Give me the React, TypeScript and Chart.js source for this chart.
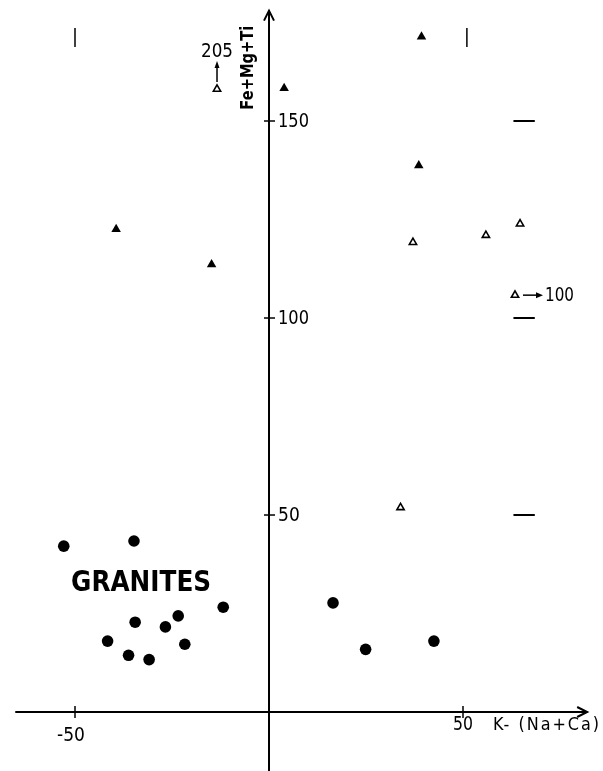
import React, { useEffect, useRef } from "react";
import { Chart, registerables } from "chart.js";
Chart.register(...registerables);

// Granites (filled circles)
const graniteX = [-52.9, -34.8, -11.8, -23.4, -34.5, -26.7, -41.6, -21.7, -36.2, -30.9, 16.5, 24.9, 42.5];
const graniteY = [42.1, 43.4, 26.6, 24.4, 22.8, 21.6, 18.0, 17.2, 14.4, 13.3, 27.7, 15.9, 18.0];
// Filled triangles
const filledTriX = [-39.4, -14.8, 3.9, 39.3, 38.6];
const filledTriY = [122.5, 113.6, 158.3, 171.4, 138.7];
// Open triangles
const openTriX = [-13.4, 37.1, 55.9, 64.7, 63.4, 33.9];
const openTriY = [158.1, 119.2, 121.0, 123.9, 105.8, 51.9];
// Off-scale true values for open triangles ("up" = Fe+Mg+Ti, "right" = K-(Na+Ca))
const openTriNote = ["205", "", "", "", "100", ""];
const openTriNoteDir = ["up", "", "", "", "right", ""];

const xTicks = [-50, 50];
const xTickLabels = ["-50", "50"];
const yTicks = [50, 100, 150];
const yTickLabels = ["50", "100", "150"];
const xAxisTitle = "K- (Na+Ca)";
const yAxisTitle = "Fe+Mg+Ti";
const groupLabel = "GRANITES";
const groupLabelAt = [-51, 32.5];

// reference marks
const dashY = [150, 100, 50];
const dashX = [63, 68.5];
const barX = [-50, 51];
const barY = [168.8, 173.6];

const xRange = [-69.33, 86.08];
const yRange = [-14.97, 180.71];
const xAxisExtent = [-65.4, 82];
const yAxisExtent = [-15, 178];

const FONT = "'DejaVu Sans Condensed', 'DejaVu Sans', sans-serif";

const axesPlugin = {
  id: "customAxes",
  afterDatasetsDraw(chart: any) {
    const ctx = chart.ctx as CanvasRenderingContext2D;
    const xs = chart.scales.x;
    const ys = chart.scales.y;
    const px = (v: number) => xs.getPixelForValue(v);
    const py = (v: number) => ys.getPixelForValue(v);
    const x0 = px(0);
    const y0 = py(0);
    ctx.save();
    ctx.strokeStyle = "#000";
    ctx.fillStyle = "#000";
    ctx.lineWidth = 2;
    ctx.lineCap = "butt";
    // x axis
    ctx.beginPath();
    ctx.moveTo(px(xAxisExtent[0]), y0);
    ctx.lineTo(px(xAxisExtent[1]), y0);
    ctx.stroke();
    const xe = px(xAxisExtent[1]);
    ctx.beginPath();
    ctx.moveTo(xe - 10, y0 - 5);
    ctx.lineTo(xe, y0);
    ctx.lineTo(xe - 10, y0 + 5);
    ctx.stroke();
    // y axis
    ctx.beginPath();
    ctx.moveTo(x0, py(yAxisExtent[0]));
    ctx.lineTo(x0, py(yAxisExtent[1]));
    ctx.stroke();
    const ye = py(yAxisExtent[1]);
    ctx.beginPath();
    ctx.moveTo(x0 - 5, ye + 10);
    ctx.lineTo(x0, ye);
    ctx.lineTo(x0 + 5, ye + 10);
    ctx.stroke();
    // ticks
    ctx.lineWidth = 1.5;
    yTicks.forEach((t, i) => {
      const y = py(t);
      ctx.beginPath();
      ctx.moveTo(x0 - 5, y);
      ctx.lineTo(x0 + 6, y);
      ctx.stroke();
      ctx.font = `19px ${FONT}`;
      ctx.textAlign = "left";
      ctx.textBaseline = "middle";
      ctx.fillText(yTickLabels[i], x0 + 9, y + 1, 31);
    });
    xTicks.forEach((t, i) => {
      const x = px(t);
      ctx.beginPath();
      ctx.moveTo(x, y0 - 6);
      ctx.lineTo(x, y0 + 6);
      ctx.stroke();
      ctx.font = `19px ${FONT}`;
      ctx.textAlign = "center";
      ctx.textBaseline = "middle";
      const neg = t < 0;
      ctx.fillText(xTickLabels[i], x + (neg ? -4 : 0), y0 + (neg ? 24 : 13), neg ? 36 : 20);
    });
    // x axis title
    ctx.save();
    ctx.font = `18px ${FONT}`;
    (ctx as any).letterSpacing = "2px";
    ctx.textAlign = "left";
    ctx.textBaseline = "middle";
    ctx.fillText(xAxisTitle, px(50) + 30, y0 + 13, 108);
    ctx.restore();
    // y axis title (rotated)
    ctx.save();
    ctx.translate(x0 - 20, py(yAxisExtent[1]) + 57);
    ctx.rotate(-Math.PI / 2);
    ctx.font = `bold 17px ${FONT}`;
    ctx.textAlign = "center";
    ctx.textBaseline = "middle";
    ctx.fillText(yAxisTitle, 0, 0, 84);
    ctx.restore();
    // group label
    ctx.font = `bold 29px ${FONT}`;
    ctx.textAlign = "left";
    ctx.textBaseline = "middle";
    ctx.fillText(groupLabel, px(groupLabelAt[0]), py(groupLabelAt[1]), 140);
    // off-scale annotations
    ctx.lineWidth = 1.5;
    openTriNote.forEach((note, i) => {
      if (!note) return;
      const x = px(openTriX[i]);
      const y = py(openTriY[i]);
      ctx.font = `19px ${FONT}`;
      if (openTriNoteDir[i] === "up") {
        ctx.beginPath();
        ctx.moveTo(x, y - 7);
        ctx.lineTo(x, y - 25);
        ctx.stroke();
        ctx.beginPath();
        ctx.moveTo(x - 2.5, y - 21);
        ctx.lineTo(x, y - 28);
        ctx.lineTo(x + 2.5, y - 21);
        ctx.closePath();
        ctx.fill();
        ctx.textAlign = "center";
        ctx.textBaseline = "middle";
        ctx.fillText(note, x, y - 37, 32);
      } else {
        ctx.beginPath();
        ctx.moveTo(x + 8, y);
        ctx.lineTo(x + 24, y);
        ctx.stroke();
        ctx.beginPath();
        ctx.moveTo(x + 21, y - 3);
        ctx.lineTo(x + 28, y);
        ctx.lineTo(x + 21, y + 3);
        ctx.closePath();
        ctx.fill();
        ctx.textAlign = "left";
        ctx.textBaseline = "middle";
        ctx.fillText(note, x + 30, y + 1, 29);
      }
    });
    ctx.restore();
  },
};

export default function App() {
  const ref = useRef<HTMLCanvasElement | null>(null);
  useEffect(() => {
    document.body.style.margin = "0";
    const canvas = ref.current;
    if (!canvas) return;
    const lineSets: any[] = [];
    dashY.forEach((y) => {
      lineSets.push({
        type: "line",
        data: dashX.map((x) => ({ x, y })),
        borderColor: "#000",
        borderWidth: 2,
        pointRadius: 0,
        showLine: true,
      });
    });
    barX.forEach((x) => {
      lineSets.push({
        type: "line",
        data: barY.map((y) => ({ x, y })),
        borderColor: "#000",
        borderWidth: 1.5,
        pointRadius: 0,
        showLine: true,
      });
    });
    const chart = new Chart(canvas, {
      type: "scatter",
      data: {
        datasets: [
          {
            label: "granites",
            data: graniteX.map((x, i) => ({ x, y: graniteY[i] })),
            pointStyle: "circle",
            pointRadius: 5.8,
            backgroundColor: "#000",
            borderColor: "#000",
            borderWidth: 0,
          },
          {
            label: "filled",
            data: filledTriX.map((x, i) => ({ x, y: filledTriY[i] })),
            pointStyle: "triangle",
            pointRadius: 5.5,
            backgroundColor: "#000",
            borderColor: "#000",
            borderWidth: 0,
          },
          {
            label: "open",
            data: openTriX.map((x, i) => ({ x, y: openTriY[i] })),
            pointStyle: "triangle",
            pointRadius: 4.2,
            backgroundColor: "#fff",
            borderColor: "#000",
            borderWidth: 1.6,
          },
          ...lineSets,
        ],
      },
      options: {
        animation: false,
        responsive: false,
        maintainAspectRatio: false,
        layout: { padding: 0, autoPadding: false },
        plugins: { legend: { display: false }, tooltip: { enabled: false } },
        scales: {
          x: { type: "linear", min: xRange[0], max: xRange[1], display: false },
          y: { type: "linear", min: yRange[0], max: yRange[1], display: false },
        },
      },
      plugins: [axesPlugin],
    } as any);
    return () => chart.destroy();
  }, []);
  return (
    <div style={{ width: 603, height: 771, background: "#fff" }}>
      <canvas ref={ref} width={603} height={771} style={{ display: "block" }} />
    </div>
  );
}
